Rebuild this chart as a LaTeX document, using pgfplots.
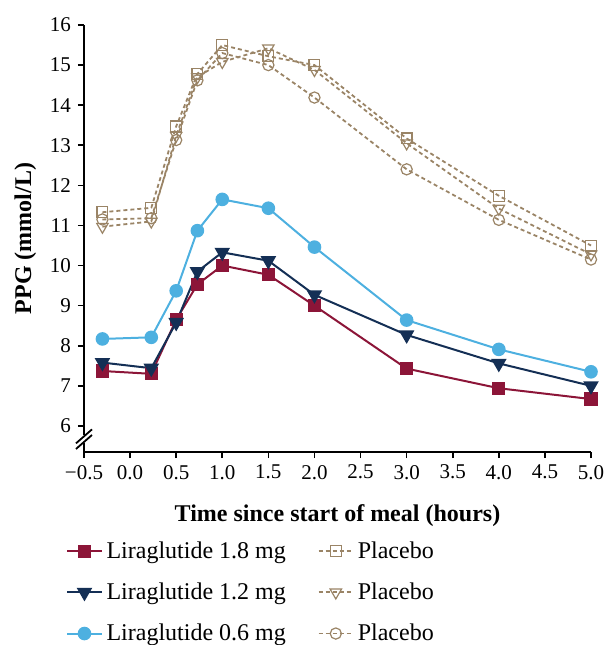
\documentclass[border=0pt]{standalone}
\usepackage{fontspec}
\setmainfont{Liberation Serif}
\usepackage{pgfplots}
\pgfplotsset{compat=1.18}

\definecolor{lira18}{HTML}{8C1538}
\definecolor{lira12}{HTML}{142F55}
\definecolor{lira06}{HTML}{4DB0E0}
\definecolor{plac}{HTML}{9A8466}

\begin{document}
\begin{tikzpicture}
\begin{axis}[
  scale only axis,
  width=253.5pt,
  height=213.5pt,
  xmin=-0.5, xmax=5.0,
  ymin=5.35, ymax=16,
  axis lines*=left,
  axis line style={line width=1pt},
  xtick={-0.5,0,...,5.0},
  xticklabels={−0.5,0.0,0.5,1.0,1.5,2.0,2.5,3.0,3.5,4.0,4.5,5.0},
  ytick={6,7,...,16},
  /pgf/number format/assume math mode=true,
  tick align=outside,
  major tick length=3pt,
  tick style={line width=0.8pt, black},
  ticklabel style={font=\fontsize{10.5}{12}\selectfont},
  xlabel={\textbf{Time since start of meal (hours)}},
  ylabel={\textbf{PPG (mmol/L)}},
  label style={font=\fontsize{12}{14}\selectfont},
  xlabel style={yshift=-6pt},
  clip=false,
  legend columns=2,
  legend cell align=left,
  legend style={draw=none, at={(0,0)}, anchor=north west, xshift=-12pt, yshift=-40.5pt,
    font=\fontsize{12}{14}\selectfont, row sep=6.75pt,
    /tikz/every even column/.append style={column sep=14pt}},
]
\addplot[lira18, line width=1pt, mark=square*, mark size=2.8pt] coordinates {
(-0.3,7.37) (0.23,7.30) (0.5,8.65) (0.73,9.53) (1.0,10.0) (1.5,9.77) (2.0,9.0) (3.0,7.43) (4.0,6.94) (5.0,6.67)};
\addlegendentry{Liraglutide 1.8 mg}
\addplot[plac, line width=0.9pt, dash pattern=on 2pt off 1.5pt, mark=square, mark size=2.7pt, mark options={solid, fill=white, line width=0.6pt}] coordinates {
(-0.3,11.33) (0.23,11.44) (0.5,13.47) (0.73,14.78) (1.0,15.50) (1.5,15.22) (2.0,15.00) (3.0,13.17) (4.0,11.74) (5.0,10.50)};
\addlegendentry{Placebo}
\addplot[lira12, line width=1pt, mark=triangle*, mark size=3.5pt, mark options={rotate=180}] coordinates {
(-0.3,7.58) (0.23,7.44) (0.5,8.58) (0.73,9.85) (1.0,10.33) (1.5,10.12) (2.0,9.27) (3.0,8.27) (4.0,7.56) (5.0,7.00)};
\addlegendentry{Liraglutide 1.2 mg}
\addplot[plac, line width=0.9pt, dash pattern=on 2pt off 1.5pt, mark=triangle, mark size=3.3pt, mark options={solid, rotate=180, fill=white, line width=0.6pt}] coordinates {
(-0.3,10.97) (0.23,11.10) (0.5,13.24) (0.73,14.70) (1.0,15.08) (1.5,15.42) (2.0,14.88) (3.0,13.05) (4.0,11.42) (5.0,10.28)};
\addlegendentry{Placebo}
\addplot[lira06, line width=1pt, mark=*, mark size=2.9pt] coordinates {
(-0.3,8.17) (0.23,8.21) (0.5,9.37) (0.73,10.87) (1.0,11.65) (1.5,11.43) (2.0,10.46) (3.0,8.64) (4.0,7.91) (5.0,7.35)};
\addlegendentry{Liraglutide 0.6 mg}
\addplot[plac, line width=0.9pt, dash pattern=on 2pt off 1.5pt, mark=o, mark size=2.8pt, mark options={solid, fill=white, line width=0.6pt}] coordinates {
(-0.3,11.15) (0.23,11.18) (0.5,13.13) (0.73,14.62) (1.0,15.30) (1.5,15.00) (2.0,14.19) (3.0,12.40) (4.0,11.14) (5.0,10.15)};
\addlegendentry{Placebo}
% axis break marks
\draw[white, line width=3pt] (axis cs:-0.5,5.57) -- (axis cs:-0.5,5.77);
\draw[black, line width=0.9pt] ([xshift=-4pt,yshift=-3.5pt]axis cs:-0.5,5.60) -- ([xshift=4pt,yshift=3.5pt]axis cs:-0.5,5.60);
\draw[black, line width=0.9pt] ([xshift=-4pt,yshift=-3.5pt]axis cs:-0.5,5.74) -- ([xshift=4pt,yshift=3.5pt]axis cs:-0.5,5.74);
\coordinate (bl) at (rel axis cs:0,0);
\coordinate (tr) at (rel axis cs:1,1);
\end{axis}
\pgfresetboundingbox
\path ([shift={(-42pt,-96.5pt)}]bl) rectangle ([shift={(7.5pt,12.5pt)}]tr);
\end{tikzpicture}
\end{document}
